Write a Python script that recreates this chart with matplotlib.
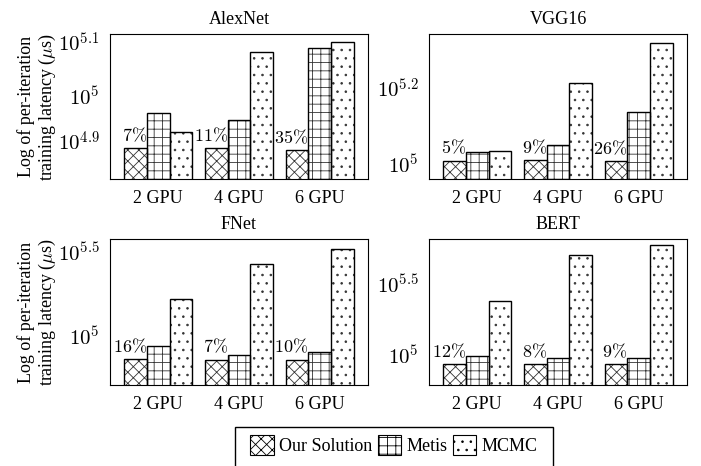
import numpy as np
import matplotlib
matplotlib.use('Agg')
import matplotlib.pyplot as plt
from matplotlib.patches import Patch, Rectangle
from matplotlib.ticker import NullLocator

plt.rcParams['font.family'] = ['Liberation Serif', 'DejaVu Serif']
plt.rcParams['mathtext.fontset'] = 'cm'
plt.rcParams['hatch.linewidth'] = 0.6

# ---- data (per-iteration latency, us) ----
gpus = ['2 GPU', '4 GPU', '6 GPU']
methods = ['Our Solution', 'Metis', 'MCMC']
hatches = ['xxx', '++', '..']

models = ['AlexNet', 'VGG16', 'FNet', 'BERT']

alexnet_ours = [80100, 80100, 79600]
alexnet_metis = [93300, 90400, 122900]
alexnet_mcmc = [86100, 120800, 126300]

vgg16_ours = [101900, 102200, 101400]
vgg16_metis = [107100, 112000, 136900]
vgg16_mcmc = [108000, 164300, 209200]

fnet_ours = [72500, 71900, 71900]
fnet_metis = [86400, 77000, 79900]
fnet_mcmc = [165200, 268600, 333300]

bert_ours = [86300, 86300, 85900]
bert_metis = [98900, 94800, 94800]
bert_mcmc = [241500, 512000, 599800]

alexnet_pct = ['7%', '11%', '35%']
vgg16_pct = ['5%', '9%', '26%']
fnet_pct = ['16%', '7%', '10%']
bert_pct = ['12%', '8%', '9%']

# y-axis: limits and ticks given as log10 exponents
alexnet_ylim = (4.847, 5.116)
vgg16_ylim = (4.959, 5.345)
fnet_ylim = (4.704, 5.580)
bert_ylim = (4.789, 5.821)

alexnet_ticks = [4.917, 5.0, 5.1]
alexnet_ticklabels = [r'$10^{4.9}$', r'$10^{5}$', r'$10^{5.1}$']
vgg16_ticks = [5.0, 5.2]
vgg16_ticklabels = [r'$10^{5}$', r'$10^{5.2}$']
fnet_ticks = [5.0, 5.5]
fnet_ticklabels = [r'$10^{5}$', r'$10^{5.5}$']
bert_ticks = [5.0, 5.5]
bert_ticklabels = [r'$10^{5}$', r'$10^{5.5}$']

panels = [
    (models[0], [alexnet_ours, alexnet_metis, alexnet_mcmc], alexnet_pct,
     alexnet_ylim, alexnet_ticks, alexnet_ticklabels),
    (models[1], [vgg16_ours, vgg16_metis, vgg16_mcmc], vgg16_pct,
     vgg16_ylim, vgg16_ticks, vgg16_ticklabels),
    (models[2], [fnet_ours, fnet_metis, fnet_mcmc], fnet_pct,
     fnet_ylim, fnet_ticks, fnet_ticklabels),
    (models[3], [bert_ours, bert_metis, bert_mcmc], bert_pct,
     bert_ylim, bert_ticks, bert_ticklabels),
]

W, H = 701, 466
fig = plt.figure(figsize=(W / 100, H / 100), dpi=100)

# axes boxes in pixels (left, top, right, bottom)
boxes = [(110, 34, 368, 179), (429, 34, 687, 179),
         (110, 239, 368, 385), (429, 239, 687, 385)]

x = np.arange(len(gpus))
bw = 0.28
FS = 13

for i, (name, series, pct, ylim, ticks, ticklabels) in enumerate(panels):
    l, t, r, b = boxes[i]
    ax = fig.add_axes([l / W, 1 - b / H, (r - l) / W, (b - t) / H])
    ax.set_yscale('log')
    for j, vals in enumerate(series):
        xs = x + (j - 1) * bw
        ax.bar(xs, vals, bw, bottom=1, color='white', edgecolor='#333333',
               hatch=hatches[j], linewidth=0, zorder=2)
        ax.bar(xs, vals, bw, bottom=1, fill=False, edgecolor='black',
               linewidth=1.0, zorder=3)
    for k in range(len(gpus)):
        ax.annotate(pct[k].replace('%', r'\%').join(['$', '$']),
                    xy=(x[k] - bw / 2, series[0][k]), xytext=(0, 5),
                    textcoords='offset points', ha='right', va='baseline',
                    fontsize=FS)
    ax.set_ylim(10 ** ylim[0], 10 ** ylim[1])
    ax.set_xlim(-0.598, 2.598)
    ax.yaxis.set_minor_locator(NullLocator())
    ax.set_yticks([10 ** v for v in ticks])
    ax.set_yticklabels(ticklabels)
    ax.set_xticks(x)
    ax.set_xticklabels(gpus)
    ax.tick_params(axis='y', length=0, pad=7.5, labelsize=15)
    ax.tick_params(axis='x', length=0, pad=8, labelsize=FS)
    ax.set_title(name, fontsize=FS, pad=7)
    if i % 2 == 0:
        ax.set_ylabel('Log of per-iteration\ntraining latency ($\\mu$s)',
                      fontsize=FS, linespacing=1.12, labelpad=0)

handles = [Patch(facecolor='white', edgecolor='black', hatch=h, linewidth=0.8)
           for h in hatches]
fig.legend(handles, methods, loc='upper center', bbox_to_anchor=(394 / W, 1 - 427 / H),
           ncol=3, fontsize=FS, frameon=False,
           handlelength=1.3, handleheight=1.3, handletextpad=0.3,
           columnspacing=0.3, borderpad=0.45, borderaxespad=0)
# legend frame runs past the bottom edge of the figure
fig.add_artist(Rectangle((235 / W, -0.05), (553 - 235) / W, 0.05 + 1 - 427 / H,
                         transform=fig.transFigure, fill=False,
                         edgecolor='black', linewidth=1.0))

fig.savefig('out.png', dpi=100)
